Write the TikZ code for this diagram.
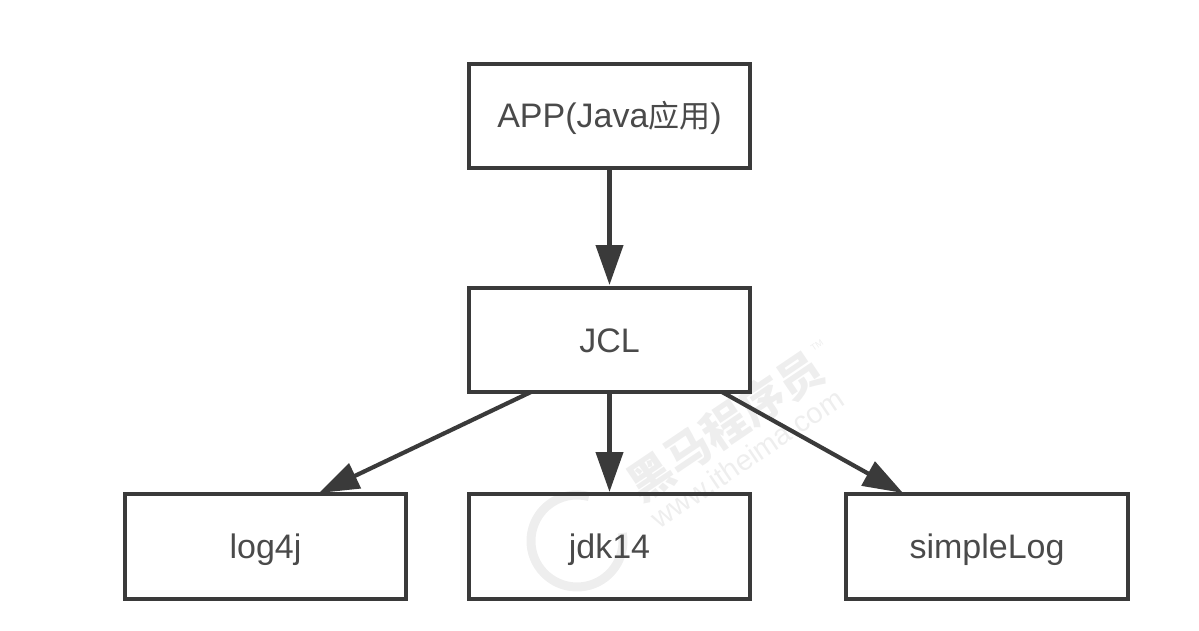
\documentclass[tikz,border=0pt]{standalone}
\usepackage{fontspec}
\setmainfont{Liberation Sans}
\newfontfamily\cjk{Noto Sans CJK SC}
\usetikzlibrary{arrows.meta,calc}
\definecolor{ink}{HTML}{3A3A3A}
\definecolor{label}{HTML}{4A4A4A}
\definecolor{wmgray}{HTML}{EEEEEE}
\tikzset{
  box/.style={draw=ink,line width=3.8pt,fill=none,minimum width=281pt,minimum height=104pt,outer sep=0pt,inner sep=0pt,text=label,text height=24pt,text depth=0pt,font=\fontsize{34}{38}\selectfont},
  link/.style={draw=ink,line width=4.2pt,-{Triangle[length=40pt,width=27pt,fill=ink]}},
}
\begin{document}
\begin{tikzpicture}[x=1pt,y=-1pt]
\useasboundingbox (0,0) rectangle (1199,631);
% watermark
\node[rotate=34,text=wmgray,font=\cjk\bfseries\fontsize{45}{50}\selectfont] (wmcn) at (725,426) {黑马程序员};
\node[rotate=34,text=wmgray,font=\fontsize{29}{32}\selectfont] (wmurl) at (747,458) {www.itheima.com};
\node[rotate=34,text=wmgray,font=\fontsize{9}{10}\selectfont] (wmtm) at (817,345) {TM};
\draw[wmgray,line width=9pt] (622.3,533) arc[start angle=10,end angle=-285,radius=46pt];
% boxes
\node[box] (app) at (609.5,116) {APP(Java{\cjk\fontsize{31}{36}\selectfont 应用})};
\node[box] (jcl) at (609.5,340) {JCL};
\node[box,minimum height=105pt] (log) at (265.5,546.5) {log4j};
\node[box,minimum height=105pt] (jdk) at (609.5,546.5) {jdk14};
\node[box,minimum height=105pt,minimum width=282pt] (simple) at (987,546.5) {simpleLog};
% connector ends
\coordinate (jclL) at ($(jcl.south west)+(62,0)$);
\coordinate (jclR) at ($(jcl.south east)+(-28,0)$);
\coordinate (logT) at ($(log.north west)+(194,-1)$);
\coordinate (simpleT) at ($(simple.north west)+(57,-1)$);
% connectors
\draw[link] (app.south) -- ($(jcl.north)+(0,-3)$);
\draw[link] (jcl.south) -- ($(jdk.north)+(0,-2)$);
\draw[link] (jclL) -- (logT);
\draw[link] (jclR) -- (simpleT);
\end{tikzpicture}
\end{document}
